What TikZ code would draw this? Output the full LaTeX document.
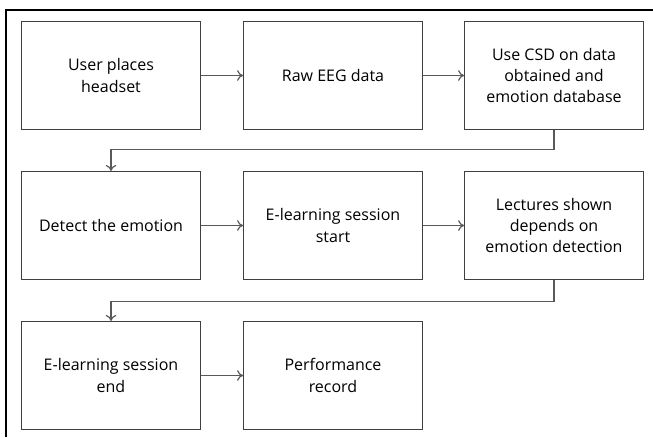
\documentclass[tikz,border=0pt]{standalone}
\usepackage{fontspec}
\setmainfont{Open Sans}
\usepackage{tikz}
\usetikzlibrary{arrows.meta, positioning, calc}

\begin{document}
\begin{tikzpicture}[x=0.75pt, y=-0.75pt,
  stage/.style={draw=black!75, line width=0.9pt, minimum width=134pt,
    minimum height=81pt, align=center, inner sep=2pt,
    font=\fontsize{12}{16}\selectfont},
  flow/.style={draw=black!65, line width=0.9pt, -{To[length=4.5pt,width=8pt]}}]
  \useasboundingbox (0,0) rectangle (653,437);

  % Outer frame (only top and left edges show)
  \draw[line width=2.2pt] (6,437) -- (6,10) -- (653,10);

  % First row
  \node[stage] (place) at (111,75.5) {User places\\headset};
  \node[stage] (raw) at (333,75.5) {Raw EEG data};
  \node[stage] (csd) at (554,75.5) {Use CSD on data\\obtained and\\emotion database};

  % Second row
  \node[stage] (detect) at (111,225.5) {Detect the emotion};
  \node[stage] (start) at (333,225.5) {E-learning session\\start};
  \node[stage] (lect) at (554,225.5) {Lectures shown\\depends on\\emotion detection};

  % Third row
  \node[stage] (finish) at (111,375.5) {E-learning session\\end};
  \node[stage] (perf) at (333,375.5) {Performance\\record};

  % Arrows along each row
  \draw[flow] (place) -- (raw);
  \draw[flow] (raw) -- (csd);
  \draw[flow] (detect) -- (start);
  \draw[flow] (start) -- (lect);
  \draw[flow] (finish) -- (perf);

  % Arrows back to the next row
  \draw[flow] (csd.south) -- ++(0,19) -| (detect.north);
  \draw[flow] (lect.south) -- ++(0,21) -| (finish.north);
\end{tikzpicture}
\end{document}
